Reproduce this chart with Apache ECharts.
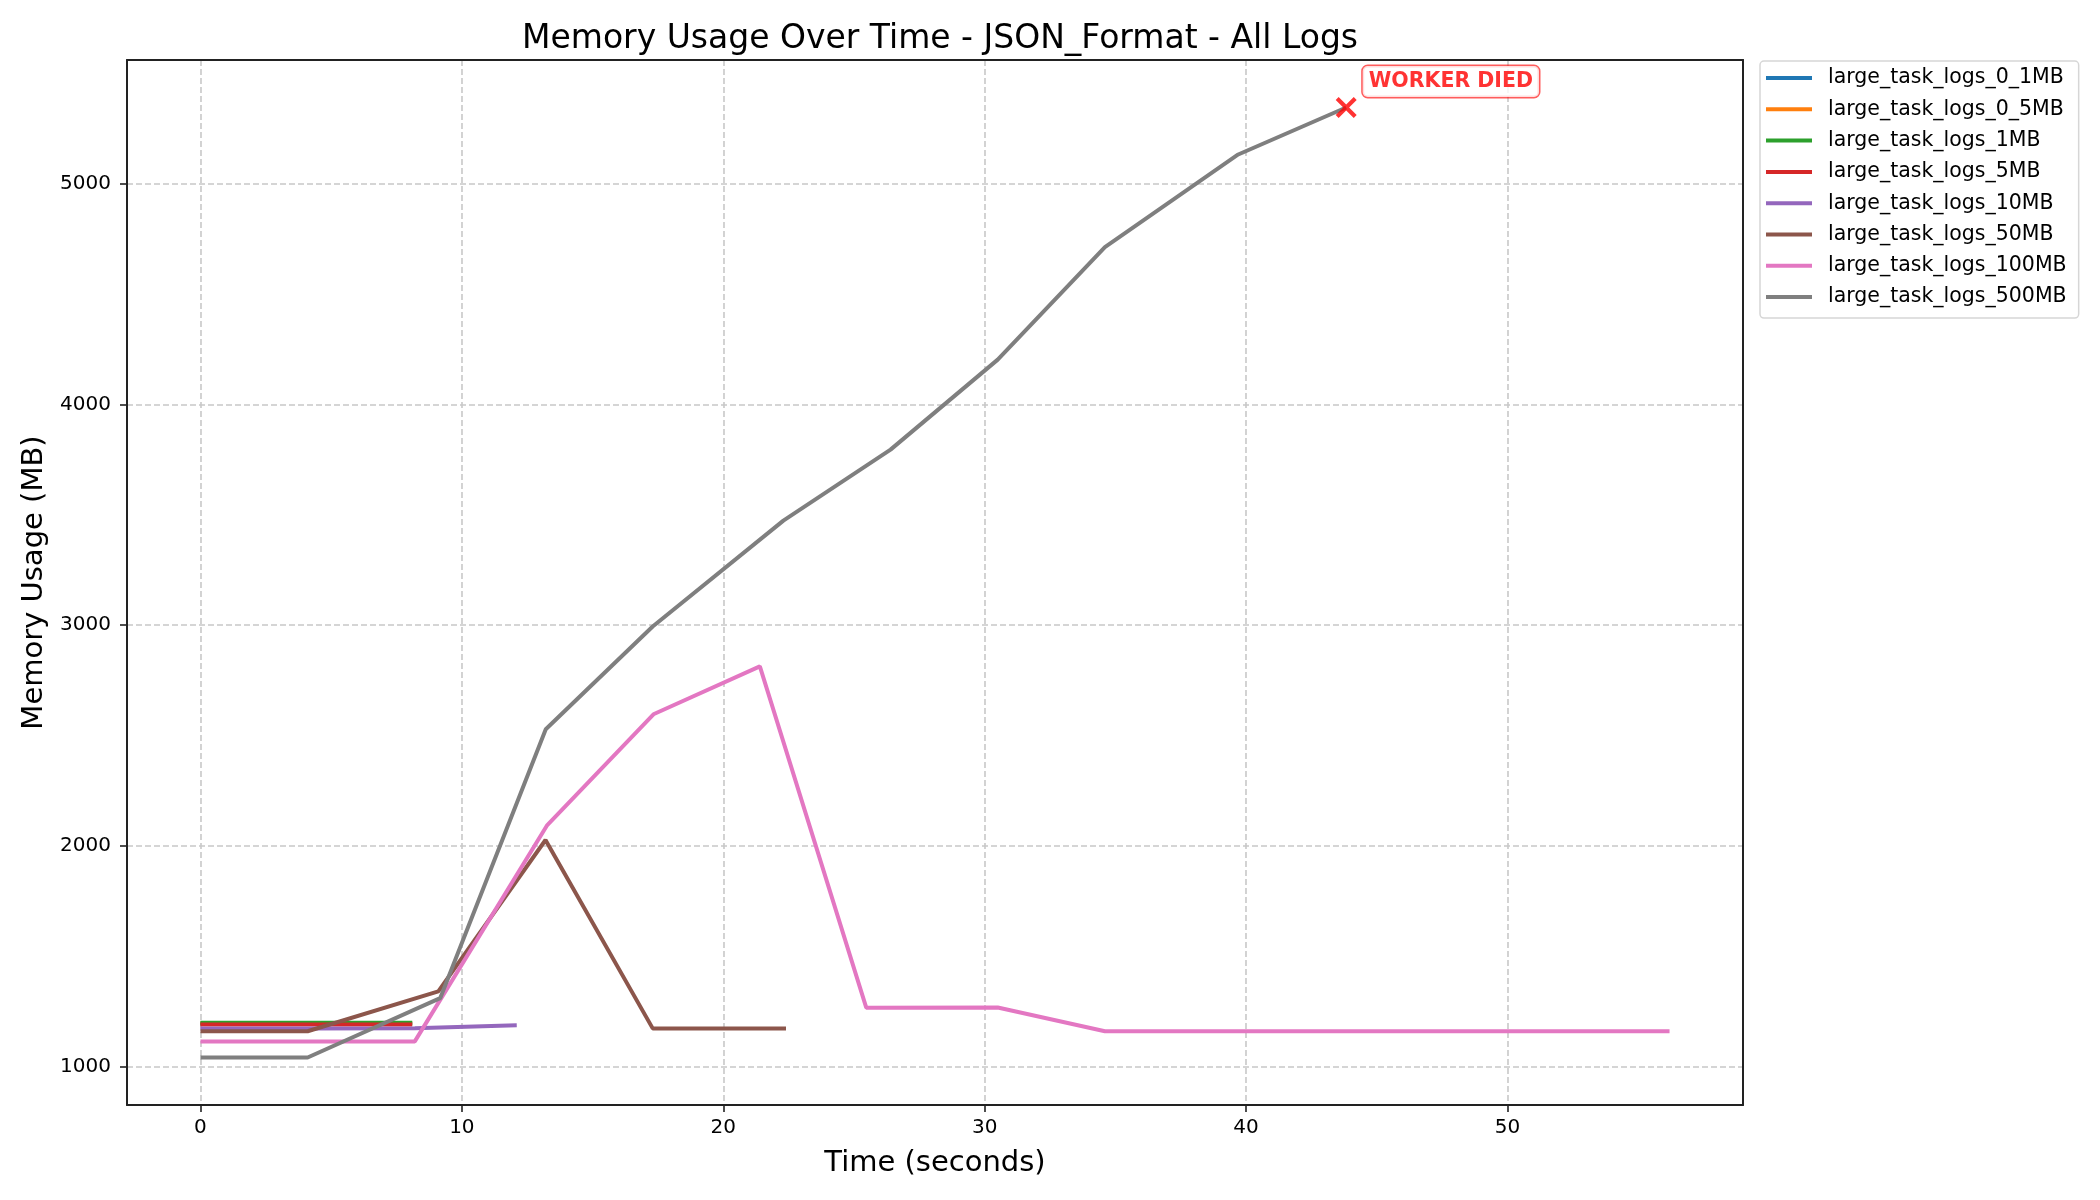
<!DOCTYPE html>
<html>
<head>
<meta charset="utf-8">
<script src="https://cdn.jsdelivr.net/npm/echarts@6/dist/echarts.min.js"></script>
<style>html,body{margin:0;padding:0;background:#fff}#c{width:2100px;height:1200px}</style>
</head>
<body>
<div id="c"></div>
<script>
const seriesNames = ['large_task_logs_0_1MB','large_task_logs_0_5MB','large_task_logs_1MB','large_task_logs_5MB','large_task_logs_10MB','large_task_logs_50MB','large_task_logs_100MB','large_task_logs_500MB'];
const colors = ['#1f77b4','#ff7f0e','#2ca02c','#d62728','#9467bd','#8c564b','#e377c2','#7f7f7f'];

const t_0_1MB = [0, 4.1, 8.1];
const v_0_1MB = [1193, 1193, 1193];
const t_0_5MB = [0, 4.1, 8.1];
const v_0_5MB = [1195, 1195, 1195];
const t_1MB = [0, 4.1, 8.1];
const v_1MB = [1198, 1198, 1198];
const t_5MB = [0, 4.1, 8.1];
const v_5MB = [1190, 1190, 1190];
const t_10MB = [0, 4.1, 8.2, 12.1];
const v_10MB = [1172, 1172, 1173, 1186];
const t_50MB = [0, 4.1, 9.1, 13.2, 17.3, 22.4];
const v_50MB = [1159, 1159, 1340, 2026, 1172, 1172];
const t_100MB = [0, 4.1, 8.2, 13.25, 17.33, 21.4, 25.47, 30.5, 34.6, 38.7, 43.7, 47.8, 51.9, 56.2];
const v_100MB = [1113, 1113, 1113, 2091, 2596, 2813, 1266, 1267, 1159, 1159, 1159, 1159, 1159, 1159];
const t_500MB = [0, 4.1, 9.17, 13.21, 17.3, 22.3, 26.4, 30.5, 34.6, 39.7, 43.83];
const v_500MB = [1040, 1040, 1309, 2528, 2994, 3474, 3796, 4204, 4714, 5134, 5347];

const xTicks = [0, 10, 20, 30, 40, 50];
const yTicks = [1000, 2000, 3000, 4000, 5000];

const times = [t_0_1MB, t_0_5MB, t_1MB, t_5MB, t_10MB, t_50MB, t_100MB, t_500MB];
const values = [v_0_1MB, v_0_5MB, v_1MB, v_5MB, v_10MB, v_50MB, v_100MB, v_500MB];

const deathPoint = [43.83, 5347];
const deathLabel = 'WORKER DIED';

// axis limits with matplotlib-like 5% margins
const allT = [].concat(...times), allV = [].concat(...values);
const tMin = Math.min(...allT), tMax = Math.max(...allT);
const vMin = Math.min(...allV), vMax = Math.max(...allV);
const xMin = tMin - 0.05*(tMax-tMin), xMax = tMax + 0.05*(tMax-tMin);
const yMin = vMin - 0.05*(vMax-vMin), yMax = vMax + 0.05*(vMax-vMin);

const FONT = 'DejaVu Sans';
const SPINE = '#222';

const series = seriesNames.map((n, i) => ({
  name: n,
  type: 'line',
  data: times[i].map((t, j) => [t, values[i][j]]),
  showSymbol: false,
  symbol: 'none',
  lineStyle: {width: 4, color: colors[i]},
  itemStyle: {color: colors[i]},
  z: 2 + i,
  animation: false
}));

series.push({
  type: 'scatter',
  name: '_death',
  data: [deathPoint],
  symbol: 'path://M0,2.8 L2.8,0 L10,7.2 L17.2,0 L20,2.8 L12.8,10 L20,17.2 L17.2,20 L10,12.8 L2.8,20 L0,17.2 L7.2,10 Z',
  symbolSize: 21,
  itemStyle: {color: '#ff0000'},
  z: 20,
  label: {
    show: true,
    position: 'right',
    distance: 6,
    offset: [0, -26],
    formatter: deathLabel,
    color: '#ff0000',
    fontWeight: 'bold',
    fontFamily: FONT,
    fontSize: 20.5,
    lineHeight: 22,
    backgroundColor: '#ffffff',
    borderColor: 'rgba(255,0,0,0.8)',
    borderWidth: 1.5,
    borderRadius: 5,
    padding: [5, 6, 4, 6]
  },
  animation: false
});

const frameAxis = (pos, min, max) => ({
  type: 'value', position: pos, min: min, max: max,
  axisLine: {show: true, onZero: false, lineStyle: {color: SPINE, width: 2}},
  axisTick: {show: false}, axisLabel: {show: false}, splitLine: {show: false}
});

const chart = echarts.init(document.getElementById('c'), null, {renderer: 'canvas'});
chart.setOption({
  backgroundColor: '#ffffff',
  animation: false,
  title: {
    text: 'Memory Usage Over Time - JSON_Format - All Logs',
    left: 935, top: 18, textAlign: 'center',
    textStyle: {fontFamily: FONT, fontSize: 33, fontWeight: 'normal', color: '#000'}
  },
  grid: {left: 127, right: 357, top: 60, bottom: 95, show: false, containLabel: false},
  legend: {
    data: seriesNames,
    orient: 'vertical',
    left: 1760, top: 61,
    icon: 'rect',
    itemWidth: 46, itemHeight: 4,
    itemGap: 9.3,
    padding: [6, 12, 10, 6],
    borderColor: '#d6d6d6', borderWidth: 1.5, borderRadius: 4,
    backgroundColor: '#fff',
    selectedMode: false,
    textStyle: {fontFamily: FONT, fontSize: 20.5, color: '#000', lineHeight: 22, padding: [0, 0, 0, 11]}
  },
  xAxis: [{
    type: 'value', position: 'bottom', min: xMin, max: xMax,
    name: 'Time (seconds)', nameLocation: 'middle', nameGap: 44,
    nameTextStyle: {fontFamily: FONT, fontSize: 29, color: '#000'},
    axisLine: {show: true, onZero: false, lineStyle: {color: SPINE, width: 2}},
    axisTick: {show: true, inside: false, length: 7, customValues: xTicks, lineStyle: {color: SPINE, width: 1.6}},
    axisLabel: {fontFamily: FONT, fontSize: 20, color: '#000', margin: 13, customValues: xTicks, formatter: v => String(v)},
    splitLine: {show: true, lineStyle: {color: '#c8c8c8', width: 1.6, type: [6, 3]}}
  }, frameAxis('top', xMin, xMax)],
  yAxis: [{
    type: 'value', position: 'left', min: yMin, max: yMax,
    name: 'Memory Usage (MB)', nameLocation: 'middle', nameGap: 65, nameRotate: 90,
    nameTextStyle: {fontFamily: FONT, fontSize: 29, color: '#000'},
    axisLine: {show: true, onZero: false, lineStyle: {color: SPINE, width: 2}},
    axisTick: {show: true, inside: false, length: 7, customValues: yTicks, lineStyle: {color: SPINE, width: 1.6}},
    axisLabel: {fontFamily: FONT, fontSize: 20, color: '#000', margin: 16, customValues: yTicks, formatter: v => String(v)},
    splitLine: {show: true, lineStyle: {color: '#c8c8c8', width: 1.6, type: [6, 3]}}
  }, frameAxis('right', yMin, yMax)],
  series: series
});
</script>
</body>
</html>
